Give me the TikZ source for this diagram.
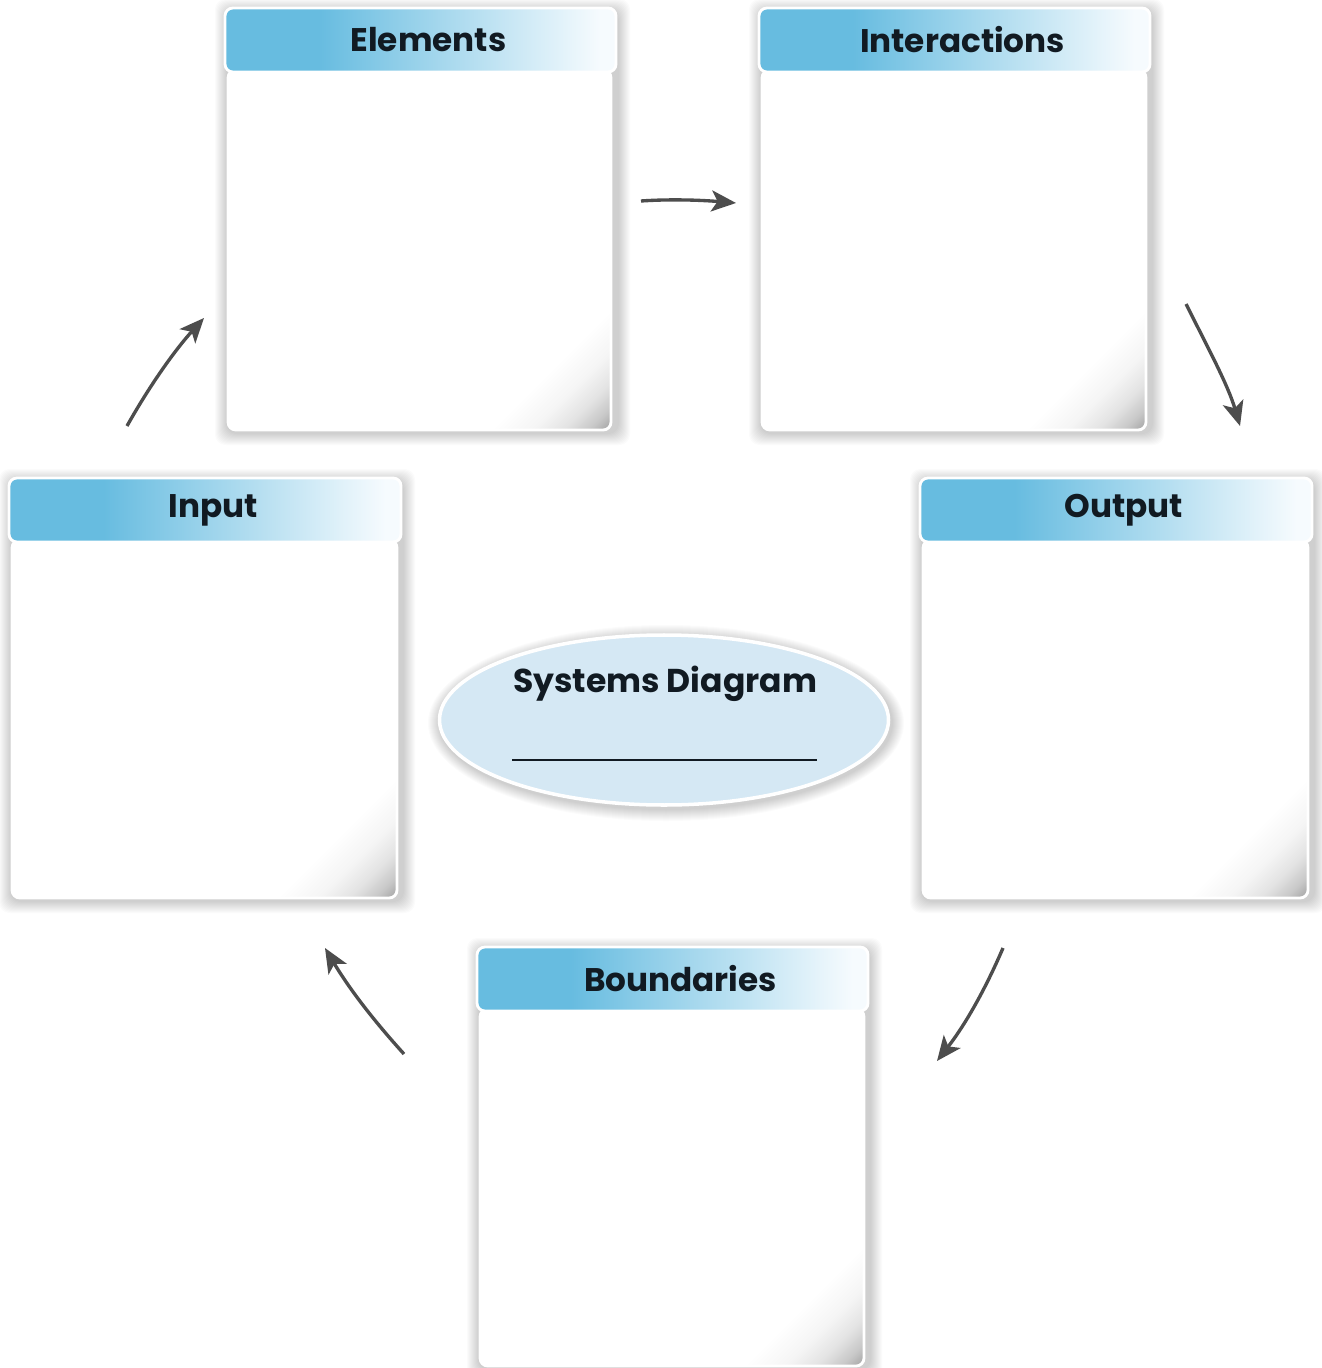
\documentclass[tikz,border=0pt]{standalone}
\usepackage{fontspec}
\setmainfont{Poppins}
\usetikzlibrary{shapes.geometric,arrows.meta}
\definecolor{hdrblue}{HTML}{67BCE0}
\definecolor{hdrend}{HTML}{F6FBFE}
\definecolor{ellblue}{HTML}{D5E8F4}
\definecolor{arrgray}{HTML}{4D4D4D}
\definecolor{txt}{HTML}{111A22}
\pgfdeclarehorizontalshading{hdrshade}{100bp}{color(0bp)=(hdrblue); color(25bp)=(hdrblue); color(37bp)=(hdrblue); color(73bp)=(hdrend); color(100bp)=(hdrend)}
\pgfdeclarehorizontalshading{curl}{100bp}{color(0bp)=(white); color(74bp)=(white); color(78bp)=(white!96!black); color(81bp)=(white!89!black); color(83.5bp)=(white!78!black); color(85.5bp)=(white!63!black); color(100bp)=(white!63!black)}
\tikzset{
  hdrbox/.style={rectangle, rounded corners=4.5pt, draw=white, line width=1.6pt, shading=hdrshade, inner sep=0pt},
  hdrtext/.style={font=\bfseries\fontsize{18.6}{22}\selectfont, text=txt, inner sep=0pt},
  bodybox/.style={rectangle, rounded corners=4.5pt, draw=white, line width=1.6pt, shading=curl, shading angle=-45, inner sep=0pt},
  arr/.style={draw=arrgray, line width=1.9pt, -{Stealth[length=14pt, width=12pt, inset=3.5pt]}},
}
\newcommand\mkpanel[8]{%
  \foreach \i in {1,...,12}{\fill[black,opacity=0.016,rounded corners=6pt] (#2-\i+2,#3-\i+3) rectangle (#4+\i+2,#8+\i+3);}
  \node[bodybox, minimum width={(#7-#6)*0.02cm}, minimum height={(#8-#3-62)*0.02cm}] (#1) at ({(#6+#7)/2},{(#3+62+#8)/2}) {};
  \node[hdrbox, minimum width={(#4-#2)*0.02cm}, minimum height={64*0.02cm}] (#1-head) at ({(#2+#4)/2},{#3+32}) {};
  \node[hdrtext] (#1-label) at ({(#2+#4)/2+8},{#3+32}) {#5};
}
\begin{document}
\begin{tikzpicture}[x=0.02cm,y=-0.02cm]
\useasboundingbox (0,0) rectangle (1321,1368);
\fill[white] (0,0) rectangle (1321,1368);
\mkpanel{elements}{225}{8}{616}{Elements}{228}{611}{430}
\mkpanel{interactions}{759}{8}{1150}{Interactions}{762}{1146}{430}
\mkpanel{input}{9}{478}{401}{Input}{12}{397}{898}
\mkpanel{output}{920}{478}{1312}{Output}{923}{1308}{898}
\mkpanel{boundaries}{477}{947}{868}{Boundaries}{480}{864}{1366}
% central ellipse
\foreach \i in {1,...,12}{\fill[black,opacity=0.016] (666,723) ellipse [x radius={(226+\i)*0.02cm}, y radius={(86+\i)*0.02cm}];}
\node[ellipse, minimum width={449*0.02cm}, minimum height={170*0.02cm}, fill=ellblue, draw=white, line width=2pt, inner sep=0pt] (center) at (664,720) {};
\node[font=\bfseries\fontsize{18.8}{22}\selectfont, text=txt, inner sep=0pt] (title) at (665,684) {Systems Diagram};
\coordinate (ul) at (512,760);
\coordinate (ur) at (817,760);
\draw[txt, line width=1.1pt] (ul) -- (ur);
% arrows
\coordinate (a1s) at (641,201); \coordinate (a1e) at (736,203);
\coordinate (a2s) at (1186,304); \coordinate (a2e) at (1240,426);
\coordinate (a3s) at (1003,948); \coordinate (a3e) at (937,1061);
\coordinate (a4s) at (404,1054); \coordinate (a4e) at (325,948);
\coordinate (a5s) at (127,426); \coordinate (a5e) at (204,318);
\draw[arr] (a1s) .. controls (670,199) and (700,200) .. (a1e);
\draw[arr] (a2s) .. controls (1208,348) and (1228,385) .. (a2e);
\draw[arr] (a3s) .. controls (985,990) and (965,1025) .. (a3e);
\draw[arr] (a4s) .. controls (375,1022) and (350,990) .. (a4e);
\draw[arr] (a5s) .. controls (150,385) and (175,350) .. (a5e);
\end{tikzpicture}
\end{document}
